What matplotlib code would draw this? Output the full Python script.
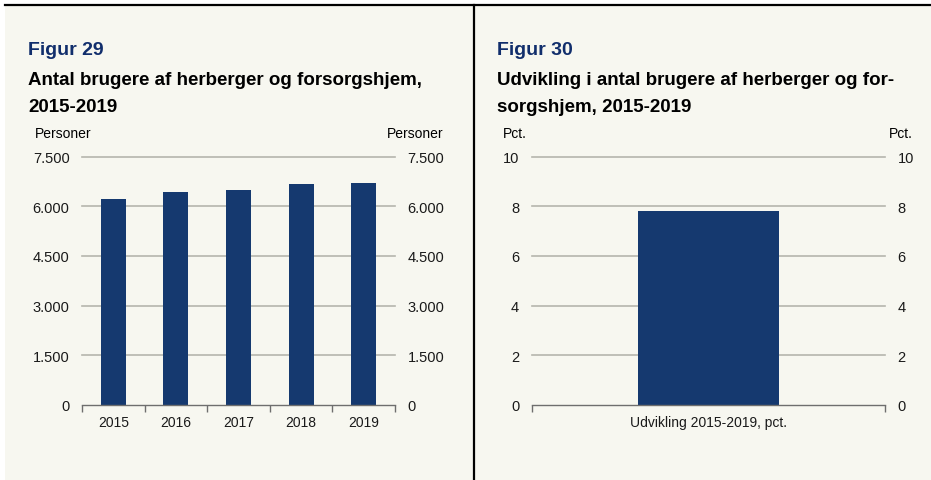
import matplotlib
matplotlib.use('Agg')
import matplotlib.pyplot as plt
from matplotlib.lines import Line2D
from matplotlib.patches import Rectangle
from matplotlib.ticker import FuncFormatter

plt.rcParams['font.family'] = ['Liberation Sans', 'DejaVu Sans']

# data
years = ['2015', '2016', '2017', '2018', '2019']
users = [6210, 6420, 6500, 6665, 6695]
users_ticks = [0, 1500, 3000, 4500, 6000, 7500]

growth_label = ['Udvikling 2015-2019, pct.']
growth = [7.8]
growth_ticks = [0, 2, 4, 6, 8, 10]

W, H = 931, 481
BG = '#f7f7f0'
NAVY = '#15396f'
FIG_BLUE = '#112e6c'
GRID = '#b5b5ad'
AXIS = '#6e6e6e'


def fx(x):
    return x / W


def fy(y):
    return 1 - y / H


fig = plt.figure(figsize=(W / 100, H / 100), dpi=100, facecolor='white')

# beige panel background and black frame lines
fig.patches.append(Rectangle((fx(5), 0), 1 - fx(5), fy(6), transform=fig.transFigure,
                             facecolor=BG, edgecolor='none', zorder=-1))
fig.lines.append(Line2D([fx(5), 1], [fy(6), fy(6)], transform=fig.transFigure,
                        color='black', lw=1.6))
fig.lines.append(Line2D([fx(474), fx(474)], [0, fy(6)], transform=fig.transFigure,
                        color='black', lw=1.6))


def add_panel(x0, x1, fig_no, title_lines, unit, unit_right_x):
    fig.text(fx(x0), fy(55), fig_no, color=FIG_BLUE, fontsize=14, fontweight='bold',
             va='baseline')
    for line, yb in zip(title_lines, [85, 112]):
        fig.text(fx(x0), fy(yb), line, color='black', fontsize=13.5, fontweight='bold',
                 va='baseline')
    fig.text(fx(x1), fy(138), unit, fontsize=10, va='baseline', ha='left')
    fig.text(fx(unit_right_x), fy(138), unit, fontsize=10, va='baseline', ha='right')


def style_axes(ax, ticks):
    ax.set_facecolor('none')
    for s in ['top', 'left', 'right']:
        ax.spines[s].set_visible(False)
    ax.spines['bottom'].set_color(AXIS)
    ax.spines['bottom'].set_linewidth(1.0)
    ax.spines['bottom'].set_zorder(3)
    ax.set_ylim(ticks[0], ticks[-1])
    ax.set_yticks(ticks)
    for t in ticks[1:]:
        ax.axhline(t, color=GRID, lw=1.2, zorder=0, clip_on=False)
    ax.tick_params(axis='y', length=0, pad=9, labelsize=10.5, labelright=True,
                   colors='#1a1a1a')
    ax.tick_params(axis='x', which='major', length=0, pad=7.5, labelsize=10,
                   colors='#1a1a1a')
    ax.tick_params(axis='x', which='minor', length=5, width=1, color=AXIS, direction='out')


# left panel: Figur 29
add_panel(28, 35, 'Figur 29',
          ['Antal brugere af herberger og forsorgshjem,', '2015-2019'],
          'Personer', 443)
ax1 = fig.add_axes([fx(82), fy(405.7), fx(395) - fx(82), (405.7 - 157.7) / H])
xs = range(len(years))
ax1.bar(xs, users, width=0.4, color=NAVY, zorder=2)
ax1.set_xlim(-0.5, len(years) - 0.5)
ax1.set_xticks(list(xs))
ax1.set_xticklabels(years)
ax1.set_xticks([i - 0.5 for i in range(len(years) + 1)], minor=True)
style_axes(ax1, users_ticks)
ax1.yaxis.set_major_formatter(FuncFormatter(lambda v, p: f'{v:,.0f}'.replace(',', '.')))

# right panel: Figur 30
add_panel(497, 503, 'Figur 30',
          ['Udvikling i antal brugere af herberger og for-', 'sorgshjem, 2015-2019'],
          'Pct.', 913)
ax2 = fig.add_axes([fx(531.7), fy(405.7), fx(885) - fx(531.7), (405.7 - 157.7) / H])
ax2.bar([0], growth, width=0.4, color=NAVY, zorder=2)
ax2.set_xlim(-0.5, 0.5)
ax2.set_xticks([0])
ax2.set_xticklabels(growth_label)
ax2.set_xticks([-0.5, 0.5], minor=True)
style_axes(ax2, growth_ticks)

fig.savefig('out.png', dpi=100, facecolor='white')
